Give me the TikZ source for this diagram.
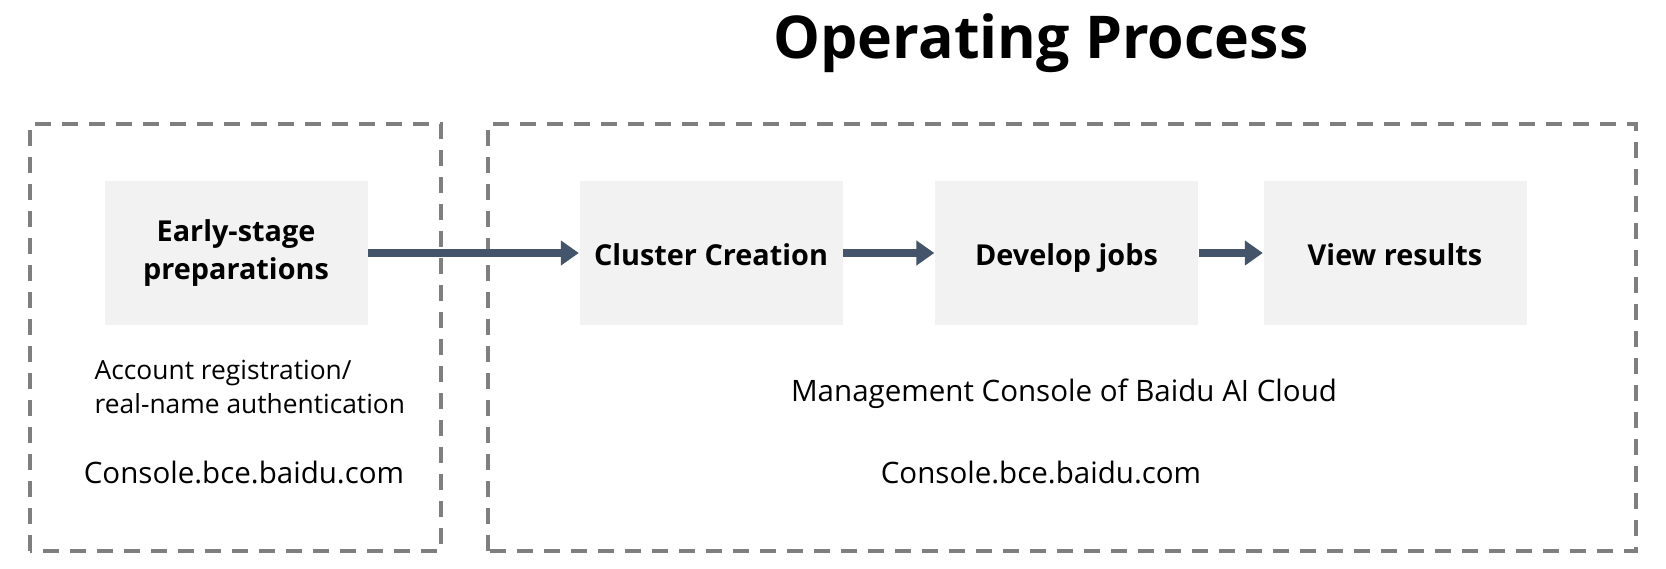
\documentclass[tikz,border=0pt]{standalone}
\usepackage{fontspec}
\setmainfont{Open Sans}
\usepackage{tikz}
\usetikzlibrary{positioning,arrows.meta}
\definecolor{framegray}{RGB}{127,127,127}
\definecolor{boxbg}{RGB}{242,242,242}
\definecolor{arrowslate}{RGB}{68,84,106}

\begin{document}
\begin{tikzpicture}[x=1cm,y=1cm,every node/.style={font=\fontsize{8.4}{9.9}\selectfont},
    frame/.style={draw=framegray,line width=1.1pt,dash pattern=on 0.16cm off 0.11cm},
    stepbox/.style={fill=boxbg,minimum width=2.63cm,minimum height=1.44cm,align=center,inner sep=0pt,font=\fontsize{8.2}{10.8}\selectfont\bfseries},
    oneline/.style={text height=1.75ex,text depth=0.45ex},
    note/.style={text=black,inner sep=0pt},
    flow/.style={-{Triangle[length=0.18cm,width=0.24cm]},line width=2pt,arrowslate}]
    \useasboundingbox (0,0) rectangle (16.66,5.68);
    \node[font=\fontsize{16.8}{18}\selectfont\bfseries,anchor=base,inner sep=0pt] (title) at (10.41,5.10) {Operating Process};
    \draw[frame] (0.30,0.17) rectangle (4.41,4.44);
    \draw[frame] (4.88,0.17) rectangle (16.36,4.44);
    \node[stepbox] (prep) at (2.36,3.15) {Early-stage\\preparations};
    \node[stepbox,oneline] (cluster) at (7.11,3.15) {Cluster Creation};
    \node[stepbox,oneline] (jobs) at (10.665,3.15) {Develop jobs};
    \node[stepbox,oneline] (results) at (13.95,3.15) {View results};
    \draw[flow] (prep)--(cluster);
    \draw[flow] (cluster)--(jobs);
    \draw[flow] (jobs)--(results);
    \node[note,align=left,anchor=west,font=\fontsize{7.5}{9.7}\selectfont] (account) at (0.94,1.81) {Account registration/\\real-name authentication};
    \node[note] (urlleft) at (2.44,0.96) {Console.bce.baidu.com};
    \node[note] (console) at (10.64,1.74) {Management Console of Baidu AI Cloud};
    \node[note] (urlright) at (10.41,0.96) {Console.bce.baidu.com};
  \end{tikzpicture}
\end{document}
